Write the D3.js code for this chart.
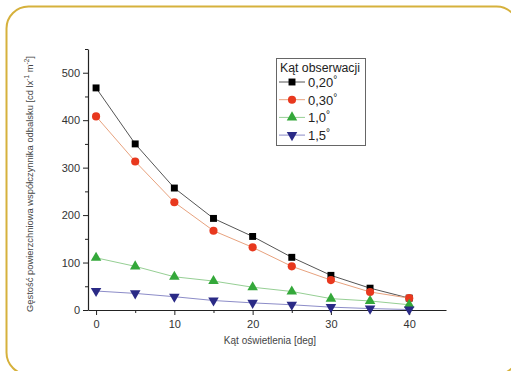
<!DOCTYPE html>
<html>
<head>
<meta charset="utf-8">
<script src="https://cdn.jsdelivr.net/npm/d3@7"></script>
<style>
  body { margin: 0; background: #fff; }
  svg { display: block; font-family: "Liberation Sans", Arial, sans-serif; }
</style>
</head>
<body>
<div id="chart"></div>
<script>
// data
const angles = [0, 5, 10, 15, 20, 25, 30, 35, 40];
const s020 = [468, 350, 257, 193, 155, 111, 73, 46, 25];
const s030 = [408, 313, 227, 167, 132, 92, 63, 38, 25];
const s10 = [110, 92, 70, 61, 48, 39, 24, 19, 11];
const s15 = [40, 35, 28, 20, 15, 11, 6, 3, 1];
const seriesNames = ["0,20°", "0,30°", "1,0°", "1,5°"];
const xTicks = [0, 10, 20, 30, 40];
const yTicks = [0, 100, 200, 300, 400, 500];

(function () {
  const width = 511;
  const height = 371;
  const margin = { top: 49, right: 65, bottom: 61, left: 88 };

  const svg = d3
    .select("#chart")
    .append("svg")
    .attr("width", width)
    .attr("height", height);

  // rounded frame
  svg.append("rect")
    .attr("x", 6.5).attr("y", 6.5)
    .attr("width", 512).attr("height", 368)
    .attr("rx", 22).attr("ry", 22)
    .attr("fill", "none")
    .attr("stroke", "#d6b13c")
    .attr("stroke-width", 2);

  const g = svg.append("g")
    .attr("transform", `translate(${margin.left},${margin.top})`);

  const w = width - margin.left - margin.right;
  const h = height - margin.top - margin.bottom;

  const x = d3.scaleLinear().domain([-1.03, 44.7]).range([0, w]);
  const y = d3.scaleLinear().domain([0, 550]).range([h, 0]);

  // axes
  const xAxis = g.append("g")
    .attr("transform", `translate(0,${h})`)
    .call(d3.axisBottom(x).tickValues(xTicks).tickSize(5).tickPadding(5).tickSizeOuter(0))
    .call((a) => a.select(".domain").attr("stroke", "#222").attr("stroke-width", 1.2));
  xAxis.selectAll(".tick text").attr("font-size", "11px").attr("fill", "#333");
  xAxis.selectAll(".tick line").attr("stroke", "#222");
  g.append("g")
    .attr("transform", `translate(0,${h})`)
    .call(d3.axisBottom(x).tickValues([5, 15, 25, 35]).tickSize(3).tickFormat(""))
    .call((a) => a.select(".domain").remove())
    .selectAll("line").attr("stroke", "#222");

  const yAxis = g.append("g")
    .call(d3.axisLeft(y).tickValues(yTicks).tickSize(5).tickPadding(3).tickSizeOuter(0))
    .call((a) => a.select(".domain").attr("stroke", "#222").attr("stroke-width", 1.2));
  yAxis.selectAll(".tick text").attr("font-size", "11px").attr("fill", "#333");
  yAxis.selectAll(".tick line").attr("stroke", "#222");
  g.append("g")
    .call(d3.axisLeft(y).tickValues([50, 150, 250, 350, 450, 550]).tickSize(3).tickFormat(""))
    .call((a) => a.select(".domain").remove())
    .selectAll("line").attr("stroke", "#222");

  // axis titles
  svg.append("text")
    .attr("x", 270).attr("y", 344)
    .attr("text-anchor", "middle")
    .attr("font-size", "10px")
    .attr("fill", "#444")
    .text("Kąt oświetlenia [deg]");

  const yt = svg.append("text")
    .attr("transform", "translate(33,184) rotate(-90)")
    .attr("text-anchor", "middle")
    .attr("font-size", "9.4px")
    .attr("fill", "#444");
  yt.append("tspan").text("Gęstość powierzchniowa współczynnika odbalsku  [cd lx");
  yt.append("tspan").attr("dy", -4).attr("font-size", "6.5px").text("-1");
  yt.append("tspan").attr("dy", 4).text(" m");
  yt.append("tspan").attr("dy", -4).attr("font-size", "6.5px").text("-2");
  yt.append("tspan").attr("dy", 4).text("]");

  const series = [
    { name: seriesNames[0], values: s020, color: "#000000", line: "#555555", shape: d3.symbolSquare, size: 48, rot: 0 },
    { name: seriesNames[1], values: s030, color: "#e8381e", line: "#e8a27e", shape: d3.symbolCircle, size: 52, rot: 0 },
    { name: seriesNames[2], values: s10, color: "#34a83a", line: "#96cf94", shape: d3.symbolTriangle, size: 48, rot: 0 },
    { name: seriesNames[3], values: s15, color: "#2a2a86", line: "#8c8cc8", shape: d3.symbolTriangle, size: 48, rot: 180 }
  ];

  const line = d3.line().x((d) => x(d[0])).y((d) => y(d[1]));

  series.forEach((s) => {
    const pts = angles.map((a, i) => [a, s.values[i]]);
    g.append("path")
      .datum(pts)
      .attr("fill", "none")
      .attr("stroke", s.line)
      .attr("stroke-width", 1)
      .attr("d", line);
    g.selectAll(null)
      .data(pts)
      .enter()
      .append("path")
      .attr("d", d3.symbol().type(s.shape).size(s.size))
      .attr("transform", (d) => `translate(${x(d[0])},${y(d[1])}) rotate(${s.rot})`)
      .attr("fill", s.color);
  });

  // legend
  const legend = svg.append("g").attr("transform", "translate(276,58)");
  legend.append("rect")
    .attr("x", 0.5).attr("y", 0.5)
    .attr("width", 89).attr("height", 87)
    .attr("fill", "#fff")
    .attr("stroke", "#666")
    .attr("stroke-width", 1);
  legend.append("text")
    .attr("x", 4).attr("y", 14)
    .attr("font-size", "12.3px")
    .attr("fill", "#222")
    .text("Kąt obserwacji");

  const items = legend.selectAll(".legend-item")
    .data(series)
    .enter()
    .append("g")
    .attr("class", "legend-item")
    .attr("transform", (d, i) => `translate(0, ${24 + i * 17.7})`);
  items.append("line")
    .attr("x1", 3).attr("x2", 29)
    .attr("stroke", (d) => d.line)
    .attr("stroke-width", 1);
  items.append("path")
    .attr("d", (d) => d3.symbol().type(d.shape).size(d.size)())
    .attr("transform", (d) => `translate(16,0) rotate(${d.rot})`)
    .attr("fill", (d) => d.color);
  items.append("text")
    .attr("x", 32).attr("y", 5)
    .attr("font-size", "13px")
    .attr("fill", "#222")
    .text((d) => d.name.replace("°", ""))
    .append("tspan")
    .attr("dy", -4)
    .attr("font-size", "10px")
    .text("°");
})();
</script>
</body>
</html>
